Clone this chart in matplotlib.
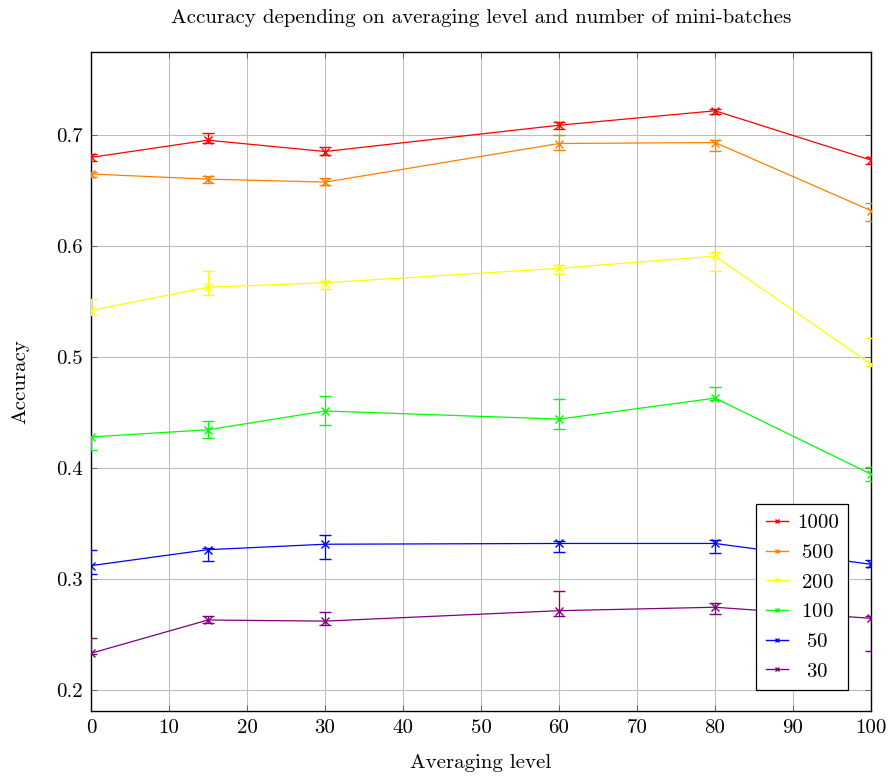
import matplotlib
matplotlib.use("Agg")
import matplotlib.pyplot as plt
from matplotlib.lines import Line2D
import numpy as np

plt.rcParams["font.family"] = "serif"
plt.rcParams["font.serif"] = ["cmr10", "DejaVu Serif"]
plt.rcParams["mathtext.fontset"] = "cm"
plt.rcParams["axes.formatter.use_mathtext"] = True

# Averaging levels
levels = [0, 15, 30, 60, 80, 100]

# Mean accuracy + lower / upper error bar ends per number of mini-batches
acc_1000 = [0.680, 0.6955, 0.6853, 0.709, 0.722, 0.6775]
lo_1000 = [0.677, 0.693, 0.682, 0.706, 0.7195, 0.674]
hi_1000 = [0.683, 0.702, 0.689, 0.712, 0.724, 0.680]

acc_500 = [0.665, 0.6604, 0.6577, 0.6925, 0.6934, 0.632]
lo_500 = [0.662, 0.6565, 0.6547, 0.687, 0.686, 0.623]
hi_500 = [0.667, 0.663, 0.661, 0.7006, 0.696, 0.639]

acc_200 = [0.542, 0.563, 0.567, 0.580, 0.591, 0.4934]
lo_200 = [0.538, 0.556, 0.561, 0.5748, 0.578, 0.492]
hi_200 = [0.552, 0.578, 0.569, 0.583, 0.5946, 0.5174]

acc_100 = [0.428, 0.4345, 0.4514, 0.4441, 0.463, 0.3944]
lo_100 = [0.416, 0.427, 0.4387, 0.4349, 0.461, 0.388]
hi_100 = [0.429, 0.442, 0.4646, 0.4622, 0.473, 0.4007]

acc_50 = [0.312, 0.3264, 0.3313, 0.332, 0.332, 0.3132]
lo_50 = [0.3045, 0.316, 0.318, 0.3243, 0.3234, 0.3105]
hi_50 = [0.3264, 0.328, 0.3394, 0.334, 0.3351, 0.317]

acc_30 = [0.233, 0.263, 0.262, 0.2714, 0.2745, 0.2645]
lo_30 = [0.232, 0.260, 0.2585, 0.267, 0.268, 0.235]
hi_30 = [0.2465, 0.267, 0.2705, 0.2894, 0.278, 0.267]

labels = ["1000", "500", "200", "100", "50", "30"]
colors = ["#ff0000", "#ff8000", "#ffff00", "#00ff00", "#0000ff", "#800080"]
series = [
    (acc_1000, lo_1000, hi_1000),
    (acc_500, lo_500, hi_500),
    (acc_200, lo_200, hi_200),
    (acc_100, lo_100, hi_100),
    (acc_50, lo_50, hi_50),
    (acc_30, lo_30, hi_30),
]

FS = 15

fig = plt.figure(figsize=(8.9, 7.76), dpi=100)
ax = fig.add_axes([0.1022, 0.0838, 0.8765, 0.8492])

handles = []
for (acc, lo, hi), lab, col in zip(series, labels, colors):
    acc = np.array(acc)
    yerr = [acc - np.array(lo), np.array(hi) - acc]
    ax.errorbar(levels, acc, yerr=yerr, color=col, lw=0.9, marker="x",
                ms=6, mew=1.0, capsize=4, elinewidth=0.9, capthick=0.9,
                zorder=3)
    handles.append(Line2D([], [], color=col, lw=1.0, marker="x", ms=3.5,
                          mew=1.0))

ax.set_xlim(0, 100)
ax.set_ylim(0.181, 0.775)
ax.set_xticks(range(0, 101, 10))
ax.set_xticklabels([str(v) for v in range(0, 101, 10)])
yt = [0.2, 0.3, 0.4, 0.5, 0.6, 0.7]
ax.set_yticks(yt)
ax.set_yticklabels([f"{v:.1f}" for v in yt])
ax.tick_params(direction="in", top=True, right=True, labelsize=FS,
               length=4, width=0.6, color="#555555", pad=6)
ax.grid(True, color="#bfbfbf", lw=0.8)
for s in ax.spines.values():
    s.set_linewidth(1.0)

ax.set_title("Accuracy depending on averaging level and number of mini-batches",
             fontsize=FS, pad=21)
ax.set_xlabel("Averaging level", fontsize=FS, labelpad=12)
ax.set_ylabel("Accuracy", fontsize=FS, labelpad=19)

# pgfplots centres the legend entries; pad shorter labels (digit = 0.5 em)
leg_labels = []
for lab in labels:
    pad = (4 - len(lab)) * 0.25
    leg_labels.append(r"$\hspace{%.2f}$" % pad + lab if pad else lab)

leg = ax.legend(handles, leg_labels, loc="lower right",
                bbox_to_anchor=(0.9705, 0.032), fontsize=FS, fancybox=False,
                edgecolor="black", framealpha=1, handlelength=1.1,
                handletextpad=0.4, labelspacing=0.53, borderpad=0.45,
                borderaxespad=0)
leg.get_frame().set_linewidth(0.9)

fig.savefig("out.png", dpi=100)
